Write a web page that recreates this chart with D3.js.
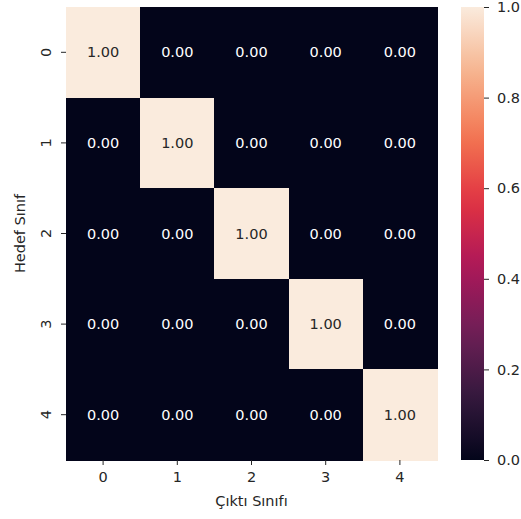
<!DOCTYPE html>
<html>
<head>
<meta charset="utf-8">
<script src="https://cdn.jsdelivr.net/npm/d3@7"></script>
<style>
  body { margin: 0; background: #fff; }
  svg { font-family: "DejaVu Sans", sans-serif; }
</style>
</head>
<body>
<div id="chart"></div>
<script>
// ──── Data ────
const targetClasses = ["0", "1", "2", "3", "4"];
const outputClasses = ["0", "1", "2", "3", "4"];
const row0 = [1.00, 0.00, 0.00, 0.00, 0.00];
const row1 = [0.00, 1.00, 0.00, 0.00, 0.00];
const row2 = [0.00, 0.00, 1.00, 0.00, 0.00];
const row3 = [0.00, 0.00, 0.00, 1.00, 0.00];
const row4 = [0.00, 0.00, 0.00, 0.00, 1.00];
const rows = [row0, row1, row2, row3, row4];
const colorbarTicks = [0.0, 0.2, 0.4, 0.6, 0.8, 1.0];

const width = 521, height = 519;

// rocket colormap, approximated by stops
const rocketStops = ["#03051a", "#35193e", "#701f57", "#ad1759", "#e13342", "#f37651", "#f6b48f", "#faebdd"];
const color = d3.scaleLinear()
    .domain(d3.range(rocketStops.length).map(i => i / (rocketStops.length - 1)))
    .range(rocketStops)
    .interpolate(d3.interpolateRgb);

const cells = [];
rows.forEach((r, i) => r.forEach((v, j) => cells.push({row: targetClasses[i], col: outputClasses[j], value: v})));

const svg = d3.select("#chart").append("svg")
    .attr("width", width)
    .attr("height", height);

const x = d3.scaleBand().domain(outputClasses).range([66, 437]);
const y = d3.scaleBand().domain(targetClasses).range([7, 460]);

// ──── Heatmap cells ────
svg.append("g")
    .attr("shape-rendering", "crispEdges")
    .selectAll("rect")
    .data(cells)
    .join("rect")
    .attr("x", d => x(d.col))
    .attr("y", d => y(d.row))
    .attr("width", x.bandwidth() + 0.6)
    .attr("height", y.bandwidth() + 0.6)
    .attr("fill", d => color(d.value));

svg.append("g")
    .attr("text-anchor", "middle")
    .attr("font-size", "14.5px")
    .selectAll("text")
    .data(cells)
    .join("text")
    .attr("x", d => x(d.col) + x.bandwidth() / 2)
    .attr("y", d => y(d.row) + y.bandwidth() / 2)
    .attr("dy", "0.35em")
    .attr("fill", d => d.value > 0.5 ? "#262626" : "#ffffff")
    .text(d => d.value.toFixed(2));

// ──── Axes ────
const xAxis = svg.append("g")
    .attr("transform", `translate(0,460)`)
    .call(d3.axisBottom(x).tickSize(5).tickPadding(7));
const yAxis = svg.append("g")
    .attr("transform", `translate(66,0)`)
    .call(d3.axisLeft(y).tickSize(5).tickPadding(5));

[xAxis, yAxis].forEach(a => {
    a.select(".domain").remove();
    a.selectAll("line").attr("stroke", "#262626");
    a.selectAll("text").attr("fill", "#262626").attr("font-size", "14.5px").attr("font-family", "DejaVu Sans");
});

// y tick labels are rotated, as in the reference
yAxis.selectAll("text")
    .attr("text-anchor", "middle")
    .attr("dy", "0.35em")
    .attr("x", 0)
    .attr("y", 0)
    .attr("transform", "translate(-20,0) rotate(-90)");

svg.append("text")
    .attr("x", (66 + 437) / 2)
    .attr("y", 506)
    .attr("text-anchor", "middle")
    .attr("font-size", "14.5px")
    .attr("fill", "#262626")
    .text("Çıktı Sınıfı");

svg.append("text")
    .attr("transform", `translate(25,${(7 + 460) / 2}) rotate(-90)`)
    .attr("text-anchor", "middle")
    .attr("font-size", "14.5px")
    .attr("fill", "#262626")
    .text("Hedef Sınıf");

// ──── Colorbar ────
const cb = d3.scaleLinear().domain([0, 1]).range([460, 7]);
const defs = svg.append("defs");
const grad = defs.append("linearGradient")
    .attr("id", "rocket")
    .attr("x1", 0).attr("y1", 1).attr("x2", 0).attr("y2", 0);
grad.selectAll("stop")
    .data(d3.range(0, 1.0001, 0.05))
    .join("stop")
    .attr("offset", d => d)
    .attr("stop-color", d => color(d));

svg.append("rect")
    .attr("x", 461)
    .attr("y", cb(1))
    .attr("width", 23)
    .attr("height", cb(0) - cb(1))
    .attr("fill", "url(#rocket)");

const cAxis = svg.append("g")
    .attr("transform", `translate(484,0)`)
    .call(d3.axisRight(cb).tickValues(colorbarTicks).tickFormat(d3.format(".1f")).tickSize(5).tickPadding(8));
cAxis.select(".domain").remove();
cAxis.selectAll("line").attr("stroke", "#262626");
cAxis.selectAll("text").attr("fill", "#262626").attr("font-size", "14.5px").attr("font-family", "DejaVu Sans");
</script>
</body>
</html>
